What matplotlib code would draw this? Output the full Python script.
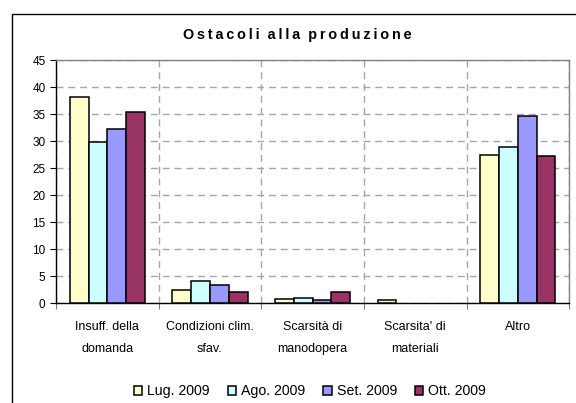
import numpy as np
import matplotlib
matplotlib.use("Agg")
import matplotlib.pyplot as plt
from matplotlib.patches import Rectangle

plt.rcParams['font.family'] = ['Liberation Sans', 'DejaVu Sans']

categories = ["Insuff. della\ndomanda", "Condizioni clim.\nsfav.", "Scarsità di\nmanodopera",
              "Scarsita' di\nmateriali", "Altro"]
series = ["Lug. 2009", "Ago. 2009", "Set. 2009", "Ott. 2009"]
lug = [38.1, 2.4, 0.7, 0.6, 27.5]
ago = [29.8, 4.1, 1.0, 0.0, 28.9]
sett = [32.2, 3.4, 0.6, 0.0, 34.7]
ott = [35.4, 2.0, 2.0, 0.0, 27.2]
values = [lug, ago, sett, ott]
colors = ["#FFFFCC", "#CCFFFF", "#9999FF", "#993366"]
title = "Ostacoli alla produzione"

fig = plt.figure(figsize=(5.76, 4.03), dpi=100)
ax = fig.add_axes([0.0972, 0.248, 0.891, 0.603])

# outer chart frame (runs off the right and bottom edges)
fig.patches.append(Rectangle((12 / 576, -0.05), 1.2, 1 - 14 / 403 + 0.05,
                             transform=fig.transFigure, fill=False,
                             edgecolor="black", linewidth=1.0))

x = np.arange(len(categories))
w = 0.183
for i, (vals, c) in enumerate(zip(values, colors)):
    vals = np.array(vals)
    pos = x + (i - 1.5) * w
    mask = vals > 0
    ax.bar(pos[mask], vals[mask], width=w, color=c, edgecolor="black",
           linewidth=1.1, label=series[i], zorder=3)

ax.set_xlim(-0.5, len(categories) - 0.5)
ax.set_ylim(0, 45)
ax.set_yticks(np.arange(0, 46, 5))
ax.set_xticks(np.arange(-0.5, len(categories), 1))
ax.set_xticklabels([])
ax.set_xticks(x, minor=True)
ax.set_xticklabels(categories, minor=True, fontsize=9, linespacing=2.05)
ax.tick_params(axis="x", which="minor", length=0, pad=13)
ax.tick_params(axis="x", which="major", length=4, direction="out", color="#808080")
ax.tick_params(axis="y", length=4, labelsize=8.5, color="black")

ax.grid(True, axis="y", which="major", linestyle=(0, (5, 3.5)), color="#A6A6A6", linewidth=1.0, zorder=0)
ax.grid(True, axis="x", which="major", linestyle=(0, (5, 3.5)), color="#A6A6A6", linewidth=1.0, zorder=0)
ax.set_axisbelow(True)

for s in ["top", "right"]:
    ax.spines[s].set_color("#808080")
    ax.spines[s].set_linewidth(1.0)
ax.spines["left"].set_color("black")
ax.spines["bottom"].set_color("black")
ax.spines["left"].set_linewidth(1.0)
ax.spines["bottom"].set_linewidth(1.0)

# letter-spaced title, words kept apart with a normal space
spaced = "  ".join("\u2009".join(word) for word in title.split())
fig.text(0.516, 1 - 35 / 403, spaced, ha="center", va="center",
         fontsize=10.4, fontweight="bold")

leg = fig.legend(loc="center", bbox_to_anchor=(0.538, 1 - 391 / 403), ncol=4, frameon=False,
                 fontsize=10.2, handlelength=0.6, handleheight=0.6, handletextpad=0.35,
                 columnspacing=1.25, borderaxespad=0)

fig.savefig("out.png", dpi=100)
